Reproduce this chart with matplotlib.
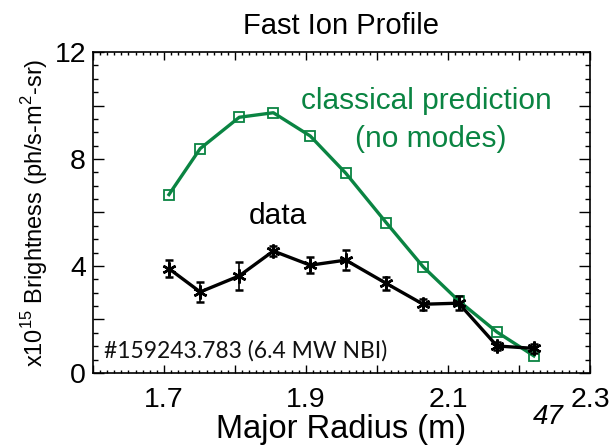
import matplotlib
matplotlib.use("Agg")
import matplotlib.pyplot as plt
from matplotlib.ticker import MultipleLocator, FuncFormatter

plt.rcParams['font.family'] = ['Liberation Sans', 'DejaVu Sans']
plt.rcParams['mathtext.fontset'] = 'custom'
plt.rcParams['mathtext.rm'] = 'Liberation Sans'

# major radius of each chord (m)
radius = [1.707, 1.751, 1.806, 1.854, 1.906, 1.956, 2.013, 2.065, 2.115, 2.169, 2.221]
# classical prediction (x1e15 ph/s-m2-sr)
classical = [6.67, 8.39, 9.56, 9.73, 8.86, 7.47, 5.62, 3.97, 2.70, 1.53, 0.64]
# measured data and its errors
data = [3.90, 3.03, 3.63, 4.56, 4.03, 4.22, 3.35, 2.57, 2.61, 1.01, 0.92]
data_err = [0.32, 0.37, 0.52, 0.19, 0.30, 0.36, 0.25, 0.21, 0.27, 0.15, 0.17]

xtick_labels = ['1.7', '1.9', '2.1', '2.3']

GREEN = '#0a8442'

fig = plt.figure(figsize=(6.09, 4.46), dpi=100)
ax = fig.add_axes([0.1527, 0.1637, 0.8161, 0.7197])

ax.plot(radius, classical, color=GREEN, lw=2.4, marker='s', ms=7.5,
        mfc='none', mec=GREEN, mew=1.3, zorder=2)
ax.errorbar(radius, data, yerr=data_err, color='black', lw=2.4,
            marker=(6, 2, 0), ms=10, mew=1.8, ecolor='black', elinewidth=1.2,
            capsize=3, capthick=1.2, zorder=3)

ax.set_xlim(1.6, 2.3)
ax.set_ylim(0, 12)

# ticks like IDL: inside, on all four sides
ax.xaxis.set_major_locator(MultipleLocator(0.1))
ax.xaxis.set_minor_locator(MultipleLocator(0.01))
ax.yaxis.set_major_locator(MultipleLocator(2))
ax.yaxis.set_minor_locator(MultipleLocator(0.5))


def xfmt(v, pos):
    s = '%.1f' % v
    return s if s in xtick_labels else ''


def yfmt(v, pos):
    return '%d' % v if int(round(v)) % 4 == 0 else ''


ax.xaxis.set_major_formatter(FuncFormatter(xfmt))
ax.yaxis.set_major_formatter(FuncFormatter(yfmt))
ax.tick_params(which='both', direction='in', top=True, right=True,
               labelsize=20.5, width=1)
ax.tick_params(axis='x', which='major', length=6, pad=10)
ax.tick_params(axis='x', which='minor', length=2.5)
ax.tick_params(axis='y', which='major', length=8, pad=5)
ax.tick_params(axis='y', which='minor', length=3.5)
for sp in ax.spines.values():
    sp.set_linewidth(1.2)

ax.set_title('Fast Ion Profile', fontsize=21, pad=13)
ax.set_xlabel('Major Radius (m)', fontsize=23.5, labelpad=1)
ax.set_ylabel(r'x10$^{15}$ Brightness (ph/s-m$^{2}$-sr)', fontsize=17, labelpad=3)

ax.text(0.67, 0.847, 'classical prediction', color=GREEN, fontsize=21.5,
        ha='center', va='center', transform=ax.transAxes)
ax.text(0.68, 0.73, '(no modes)', color=GREEN, fontsize=21.5,
        ha='center', va='center', transform=ax.transAxes)
ax.text(0.372, 0.49, 'data', color='black', fontsize=21.5,
        ha='center', va='center', transform=ax.transAxes)
ax.text(0.022, 0.07, '#159243.783 (6.4 MW NBI)', color='#111111',
        fontsize=16.5, family=['Lato', 'DejaVu Sans'],
        ha='left', va='center', transform=ax.transAxes)

# slide page number
fig.text(0.9, 0.065, '47', fontsize=20, style='italic', ha='center', va='center')

fig.savefig('out.png', dpi=100)
